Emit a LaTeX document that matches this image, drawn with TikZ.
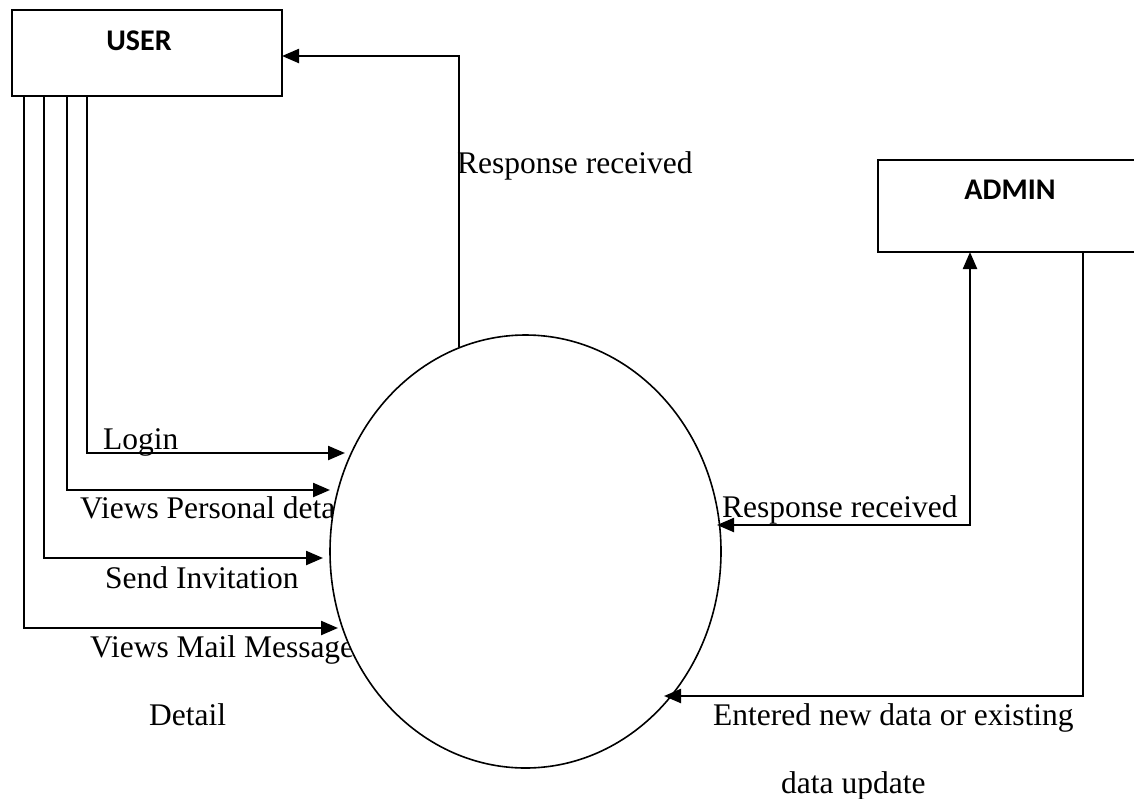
\documentclass[tikz,border=0pt]{standalone}
\usepackage{fontspec}
\setmainfont{Liberation Serif}
\newfontfamily\boxfont{Carlito}
\usetikzlibrary{arrows.meta,shapes.geometric}
\begin{document}
\begin{tikzpicture}[x=1pt,y=-1pt,
  lbl/.style={anchor=base west,inner sep=0pt,font=\fontsize{31.5}{36}\selectfont},
  ent/.style={font=\boxfont\bfseries\fontsize{30}{34}\selectfont,inner sep=0pt},
  flow/.style={line width=2.3pt,-{Triangle[length=17pt,width=14pt]}},
  both/.style={line width=2.3pt,{Triangle[length=17pt,width=14pt]}-{Triangle[length=17pt,width=14pt]}},
  boxline/.style={line width=1.6pt}]
\useasboundingbox (0,0) rectangle (1134,798);
\fill[white] (0,0) rectangle (1134,798);
% entity boxes
\draw[boxline] (12,10) rectangle (282,96);
\coordinate (Ueast) at (282,56);
\node[ent] (U) at (139,41) {USER};
\draw[boxline] (878,160) rectangle (1160,252);
\node[ent] (A) at (1010,190) {ADMIN};
% labels left
\node[lbl] (lLogin) at (103,449) {Login};
\node[lbl] (lVP) at (80,518) {Views Personal details};
\node[lbl] (lSI) at (105,588) {Send Invitation};
\node[lbl] (lVM) at (90,657) {Views Mail Message};
\node[lbl] (lDet) at (149,725) {Detail};
% user flows
\coordinate (u1) at (87,96);  \coordinate (t1) at (345,453);
\coordinate (u2) at (67,96);  \coordinate (t2) at (330,490);
\coordinate (u3) at (44,96);  \coordinate (t3) at (323,558);
\coordinate (u4) at (24,96);  \coordinate (t4) at (338,628);
\draw[flow] (u1) |- (t1);
\draw[flow] (u2) |- (t2);
\draw[flow] (u3) |- (t3);
\draw[flow] (u4) |- (t4);
% process
\node[ellipse,draw,fill=white,line width=1.6pt,minimum width=391pt,minimum height=433pt,inner sep=0pt] (P) at (525.5,551.5) {};
% response to user
\draw[flow] (P.108.2) |- (Ueast);
\node[lbl] (lR1) at (457,173) {Response received};
% admin flows
\coordinate (a1) at (970,252);
\coordinate (a2) at (1083,252);
\coordinate (b1) at (970,525);
\coordinate (b2) at (1083,696);
\coordinate (t5) at (717,525);
\coordinate (t6) at (664,696);
\draw[both] (t5) -- (b1) -- (a1);
\draw[flow] (a2) -- (b2) -- (t6);
\node[lbl] (lR2) at (722,517) {Response received};
\node[lbl] (lE1) at (713,725) {Entered new data or existing};
\node[lbl] (lE2) at (781,793) {data update};
\end{tikzpicture}
\end{document}
